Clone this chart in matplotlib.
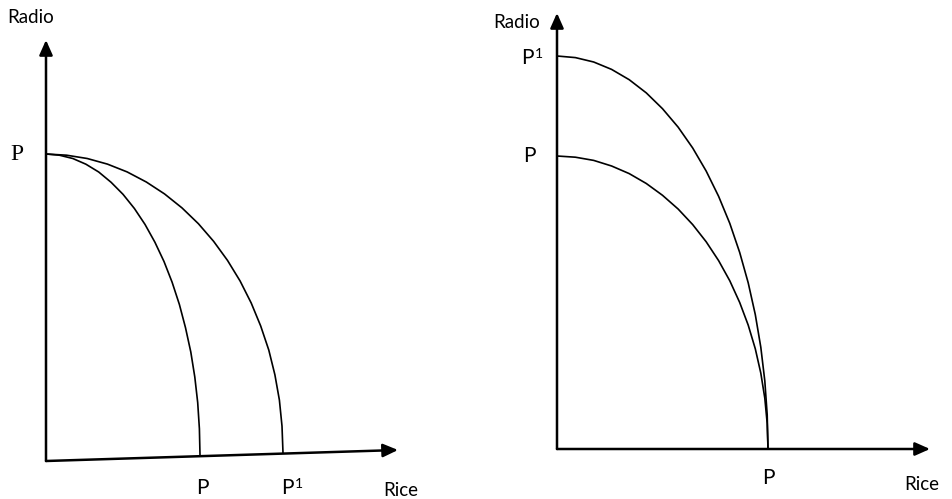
import matplotlib
matplotlib.use("Agg")
import matplotlib.pyplot as plt

# ---- data (panel-local units: horizontal = Rice, vertical = Radio) ----
# Left panel: Radio intercept P, Rice intercepts P and P1
left_inner_x = [0, 13.4, 26.8, 39.9, 52.7, 65.1, 77, 88.4, 99, 108.9, 118,
                126.1, 133.4, 139.5, 144.8, 148.8, 151.7, 153.4, 154]
left_inner_y = [307, 305.8, 302.5, 296.8, 289, 278.7, 266.7, 252.5, 236.6, 218.8,
                199.5, 178.8, 156.5, 133.3, 109, 84, 58.4, 32.2, 6]
left_outer_x = [0, 20.6, 41.2, 61.4, 81.1, 100.3, 118.5, 136, 152.4, 167.6, 181.5,
                194.1, 205.2, 214.7, 222.8, 228.9, 233.4, 236, 237]
left_outer_y = [307, 305.8, 302.5, 296.9, 289.1, 279, 267.1, 253.1, 237.3, 219.7,
                200.6, 180, 158, 135, 110.9, 86.2, 60.9, 34.9, 8]
left_axis_x_end = 352
left_axis_x_rise = 11
left_axis_y_end = 421

# Right panel: Radio intercepts P and P1, Rice intercept P
right_inner_x = [0, 18.4, 36.7, 54.6, 72.2, 89.3, 105.5, 121.1, 135.7, 149.2, 161.6,
                 172.8, 182.7, 191.2, 198.3, 203.8, 207.8, 210.2, 211]
right_inner_y = [293, 291.8, 288.6, 283, 275.4, 265.5, 253.7, 240, 224.4, 207.2,
                 188.4, 168.2, 146.5, 123.9, 100.2, 75.9, 50.9, 25.5, 0]
right_outer_x = [0, 18.4, 36.7, 54.6, 72.2, 89.3, 105.5, 121.1, 135.7, 149.2, 161.6,
                 172.8, 182.7, 191.2, 198.3, 203.8, 207.8, 210.2, 211]
right_outer_y = [393, 391.4, 387, 379.6, 369.3, 356.1, 340.3, 321.9, 301, 277.9,
                 252.7, 225.6, 196.5, 166.2, 134.4, 101.8, 68.2, 34.2, 0]
right_axis_x_end = 373
right_axis_y_end = 436

W, H = 952, 499
fig = plt.figure(figsize=(W / 100, H / 100), dpi=100)
fig.patch.set_facecolor("white")

sans = ["Lato", "DejaVu Sans"]
serif = ["Liberation Serif", "DejaVu Serif"]


def panel(ox, oy, w, h):
    ax = fig.add_axes([ox / W, (H - oy) / H, w / W, h / H])
    ax.set_xlim(0, w)
    ax.set_ylim(0, h)
    ax.axis("off")
    return ax


def arrow(ax, x0, y0, x1, y1):
    ax.annotate("", xy=(x1, y1), xytext=(x0, y0),
                arrowprops=dict(arrowstyle="-|>,head_length=0.9,head_width=0.4",
                                color="black", lw=1.8, shrinkA=0, shrinkB=0),
                annotation_clip=False)


def p_one(ax, x, y):
    # "P" followed by a superscript "1", as in the reference
    ax.text(x, y, "P", family=sans, fontsize=15, ha="right", va="center")
    ax.text(x + 1, y + 4, "1", family=sans, fontsize=10, ha="left", va="center")


# Left panel
axL = panel(46, 461, 360, 430)
arrow(axL, 0, 0, 0, left_axis_y_end)
arrow(axL, 0, 0, left_axis_x_end, left_axis_x_rise)
axL.plot(left_inner_x, left_inner_y, color="black", lw=1.2, clip_on=False,
         solid_joinstyle="round")
axL.plot(left_outer_x, left_outer_y, color="black", lw=1.2, clip_on=False,
         solid_joinstyle="round")
axL.text(-29, 307, "P", family=serif, fontsize=17, ha="center", va="center")
axL.text(-15, 444, "Radio", family=sans, fontsize=13.5, ha="center", va="center")
axL.text(156, -27, "P", family=sans, fontsize=15, ha="center", va="center")
p_one(axL, 248, -27)
axL.text(355, -29, "Rice", family=sans, fontsize=13.5, ha="center", va="center")

# Right panel
axR = panel(557, 449, 390, 440)
arrow(axR, 0, 0, 0, right_axis_y_end)
arrow(axR, 0, 0, right_axis_x_end, 0)
axR.plot(right_inner_x, right_inner_y, color="black", lw=1.2, clip_on=False,
         solid_joinstyle="round")
axR.plot(right_outer_x, right_outer_y, color="black", lw=1.2, clip_on=False,
         solid_joinstyle="round")
axR.text(-28, 293, "P", family=sans, fontsize=15, ha="center", va="center")
p_one(axR, -23, 391)
axR.text(-40, 427, "Radio", family=sans, fontsize=13.5, ha="center", va="center")
axR.text(211, -29, "P", family=sans, fontsize=15, ha="center", va="center")
axR.text(365, -35, "Rice", family=sans, fontsize=13.5, ha="center", va="center")

fig.savefig("out.png", dpi=100, facecolor="white")
